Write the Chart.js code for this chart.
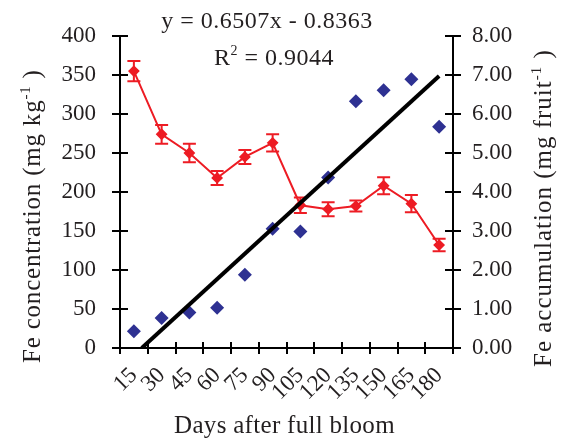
<!DOCTYPE html>
<html>
<head>
<meta charset="utf-8">
<script src="https://cdn.jsdelivr.net/npm/chart.js@4.4.1/dist/chart.umd.min.js"></script>
<style>
  html, body { margin: 0; padding: 0; background: #fff; }
  #wrap { width: 561px; height: 445px; }
</style>
</head>
<body>
<div id="wrap"><canvas id="feChart" width="561" height="445"></canvas></div>
<script>
// days after full bloom
const days = ['15', '30', '45', '60', '75', '90', '105', '120', '135', '150', '165', '180'];
// Fe concentration, mg/kg (mean and error)
const concentration = [355, 274, 250, 218, 245, 263, 183, 178, 182, 208, 185, 132];
const concentrationErr = [13, 12, 12, 9, 9, 11, 10, 9, 7, 11, 11, 8];
// Fe accumulation, mg per fruit
const accumulation = [0.43, 0.77, 0.91, 1.03, 1.88, 3.06, 2.99, 4.37, 6.33, 6.61, 6.89, 5.67];
// linear trend of accumulation against sampling index
const trendSlope = 0.6507;
const trendIntercept = -0.8363;
const trendR2 = 0.9044;

const RED = '#ED1C24';
const BLUE = '#2E3192';
const INK = '#231F20';
const FONT = '"Liberation Serif", "Times New Roman", serif';

const trendStart = -trendIntercept / trendSlope;
const trendEnd = days.length;
const trendPoints = [
  { x: trendStart, y: trendSlope * trendStart + trendIntercept },
  { x: trendEnd, y: trendSlope * trendEnd + trendIntercept }
];

// error bars for the concentration line
const errorBars = {
  id: 'errorBars',
  afterDatasetDraw(chart, args) {
    if (args.index !== 1) return;
    const ctx = chart.ctx;
    const y = chart.scales.y;
    ctx.save();
    ctx.strokeStyle = RED;
    ctx.lineWidth = 2;
    args.meta.data.forEach((pt, i) => {
      const top = y.getPixelForValue(concentration[i] + concentrationErr[i]);
      const bot = y.getPixelForValue(concentration[i] - concentrationErr[i]);
      ctx.beginPath();
      ctx.moveTo(pt.x, top); ctx.lineTo(pt.x, bot);
      ctx.moveTo(pt.x - 6.5, top); ctx.lineTo(pt.x + 6.5, top);
      ctx.moveTo(pt.x - 6.5, bot); ctx.lineTo(pt.x + 6.5, bot);
      ctx.stroke();
    });
    ctx.restore();
  }
};

// tick marks that cross the axis lines (inner half)
const innerTicks = {
  id: 'innerTicks',
  afterDraw(chart) {
    const ctx = chart.ctx;
    const { x, y, y1 } = chart.scales;
    ctx.save();
    ctx.strokeStyle = '#000';
    ctx.lineWidth = 2;
    ctx.beginPath();
    const step = x.getPixelForValue(1) - x.getPixelForValue(0);
    const first = x.getPixelForValue(0) - step / 2;
    for (let i = 0; i <= days.length; i++) {
      const px = Math.round(first + i * step);
      ctx.moveTo(px, x.top); ctx.lineTo(px, x.top - 6);
    }
    y.ticks.forEach((t, i) => {
      const py = Math.round(y.getPixelForTick(i));
      ctx.moveTo(y.right, py); ctx.lineTo(y.right + 8, py);
    });
    y1.ticks.forEach((t, i) => {
      const py = Math.round(y1.getPixelForTick(i));
      ctx.moveTo(y1.left, py); ctx.lineTo(y1.left - 8, py);
    });
    ctx.stroke();
    ctx.restore();
  }
};

// draws text pieces along a line, with optional superscripts
function drawRich(ctx, pieces, size, spacing) {
  let dx = 0;
  pieces.forEach(p => {
    const s = p.sup ? Math.round(size * 0.6) : size;
    ctx.font = s + 'px ' + FONT;
    ctx.letterSpacing = spacing + 'px';
    ctx.fillText(p.t, dx, p.sup ? -size * 0.4 : 0);
    dx += ctx.measureText(p.t).width;
  });
  return dx;
}
function richWidth(ctx, pieces, size, spacing) {
  let w = 0;
  pieces.forEach(p => {
    ctx.font = (p.sup ? Math.round(size * 0.6) : size) + 'px ' + FONT;
    ctx.letterSpacing = spacing + 'px';
    w += ctx.measureText(p.t).width;
  });
  return w;
}

// axis titles and regression label
const labels = {
  id: 'labels',
  afterDraw(chart) {
    const ctx = chart.ctx;
    const area = chart.chartArea;
    ctx.save();
    ctx.fillStyle = INK;
    ctx.textBaseline = 'alphabetic';
    ctx.textAlign = 'left';

    // left axis title
    const leftTitle = [{ t: 'Fe concentration (mg kg' }, { t: '-1', sup: true }, { t: ' )' }];
    ctx.save();
    ctx.translate(40, 363);
    ctx.rotate(-Math.PI / 2);
    drawRich(ctx, leftTitle, 25, 0.8);
    ctx.restore();

    // right axis title
    const rightTitle = [{ t: 'Fe accumulation (mg fruit' }, { t: '-1', sup: true }, { t: ' )' }];
    ctx.save();
    ctx.translate(551, 367);
    ctx.rotate(-Math.PI / 2);
    drawRich(ctx, rightTitle, 25, 1);
    ctx.restore();

    // x axis title
    const xTitle = [{ t: 'Days after full bloom' }];
    const xw = richWidth(ctx, xTitle, 25, 0.3);
    ctx.save();
    ctx.translate((area.left + area.right) / 2 - 2 - xw / 2, 433);
    drawRich(ctx, xTitle, 25, 0.3);
    ctx.restore();

    // regression equation
    const eq = [{ t: 'y = ' + trendSlope + 'x - ' + (-trendIntercept) }];
    const eqW = richWidth(ctx, eq, 24, 0.5);
    ctx.save();
    ctx.translate(area.left + 147 - eqW / 2, 28);
    drawRich(ctx, eq, 24, 0.5);
    ctx.restore();

    const r2 = [{ t: 'R' }, { t: '2', sup: true }, { t: ' = ' + trendR2 }];
    const r2W = richWidth(ctx, r2, 24, 0.5);
    ctx.save();
    ctx.translate(area.left + 154 - r2W / 2, 65);
    drawRich(ctx, r2, 24, 0.5);
    ctx.restore();

    ctx.restore();
  }
};

const tickFont = { family: FONT, size: 23 };

new Chart(document.getElementById('feChart'), {
  type: 'line',
  data: {
    labels: days,
    datasets: [
      {
        label: 'Linear trend',
        data: trendPoints,
        xAxisID: 'xt',
        yAxisID: 'y1',
        borderColor: '#000',
        borderWidth: 4,
        pointRadius: 0,
        fill: false
      },
      {
        label: 'Fe concentration',
        data: concentration,
        xAxisID: 'x',
        yAxisID: 'y',
        borderColor: RED,
        backgroundColor: RED,
        borderWidth: 2,
        pointStyle: 'rectRot',
        pointRadius: 4.5,
        tension: 0,
        fill: false
      },
      {
        label: 'Fe accumulation',
        data: accumulation,
        xAxisID: 'x',
        yAxisID: 'y1',
        showLine: false,
        backgroundColor: BLUE,
        borderColor: BLUE,
        pointStyle: 'rectRot',
        pointRadius: 7,
        pointBorderWidth: 0
      }
    ]
  },
  options: {
    responsive: false,
    devicePixelRatio: 1,
    animation: false,
    layout: { padding: { top: 36, left: 0, right: 0, bottom: 0 } },
    plugins: {
      legend: { display: false },
      tooltip: { enabled: false }
    },
    scales: {
      x: {
        type: 'category',
        offset: true,
        grid: { offset: true, drawOnChartArea: false, drawTicks: true, tickLength: 6, color: '#000', lineWidth: 2 },
        border: { display: true, color: '#000', width: 2 },
        ticks: { color: INK, font: tickFont, minRotation: 45, maxRotation: 45, padding: 8, autoSkip: false },
        afterFit: s => { s.height = 97; }
      },
      xt: {
        type: 'linear',
        display: false,
        min: 0.5,
        max: days.length + 0.5
      },
      y: {
        position: 'left',
        min: 0,
        max: 400,
        grid: { drawOnChartArea: false, tickLength: 8, color: '#000', lineWidth: 2 },
        border: { display: true, color: '#000', width: 2 },
        ticks: { stepSize: 50, color: INK, font: tickFont, padding: 16 },
        afterFit: s => { s.width = 120; }
      },
      y1: {
        position: 'right',
        min: 0,
        max: 8,
        grid: { drawOnChartArea: false, tickLength: 8, color: '#000', lineWidth: 2 },
        border: { display: true, color: '#000', width: 2 },
        ticks: { stepSize: 1, color: INK, font: tickFont, padding: 11, callback: v => v.toFixed(2) },
        afterFit: s => { s.width = 108; }
      }
    }
  },
  plugins: [errorBars, innerTicks, labels]
});
</script>
</body>
</html>
